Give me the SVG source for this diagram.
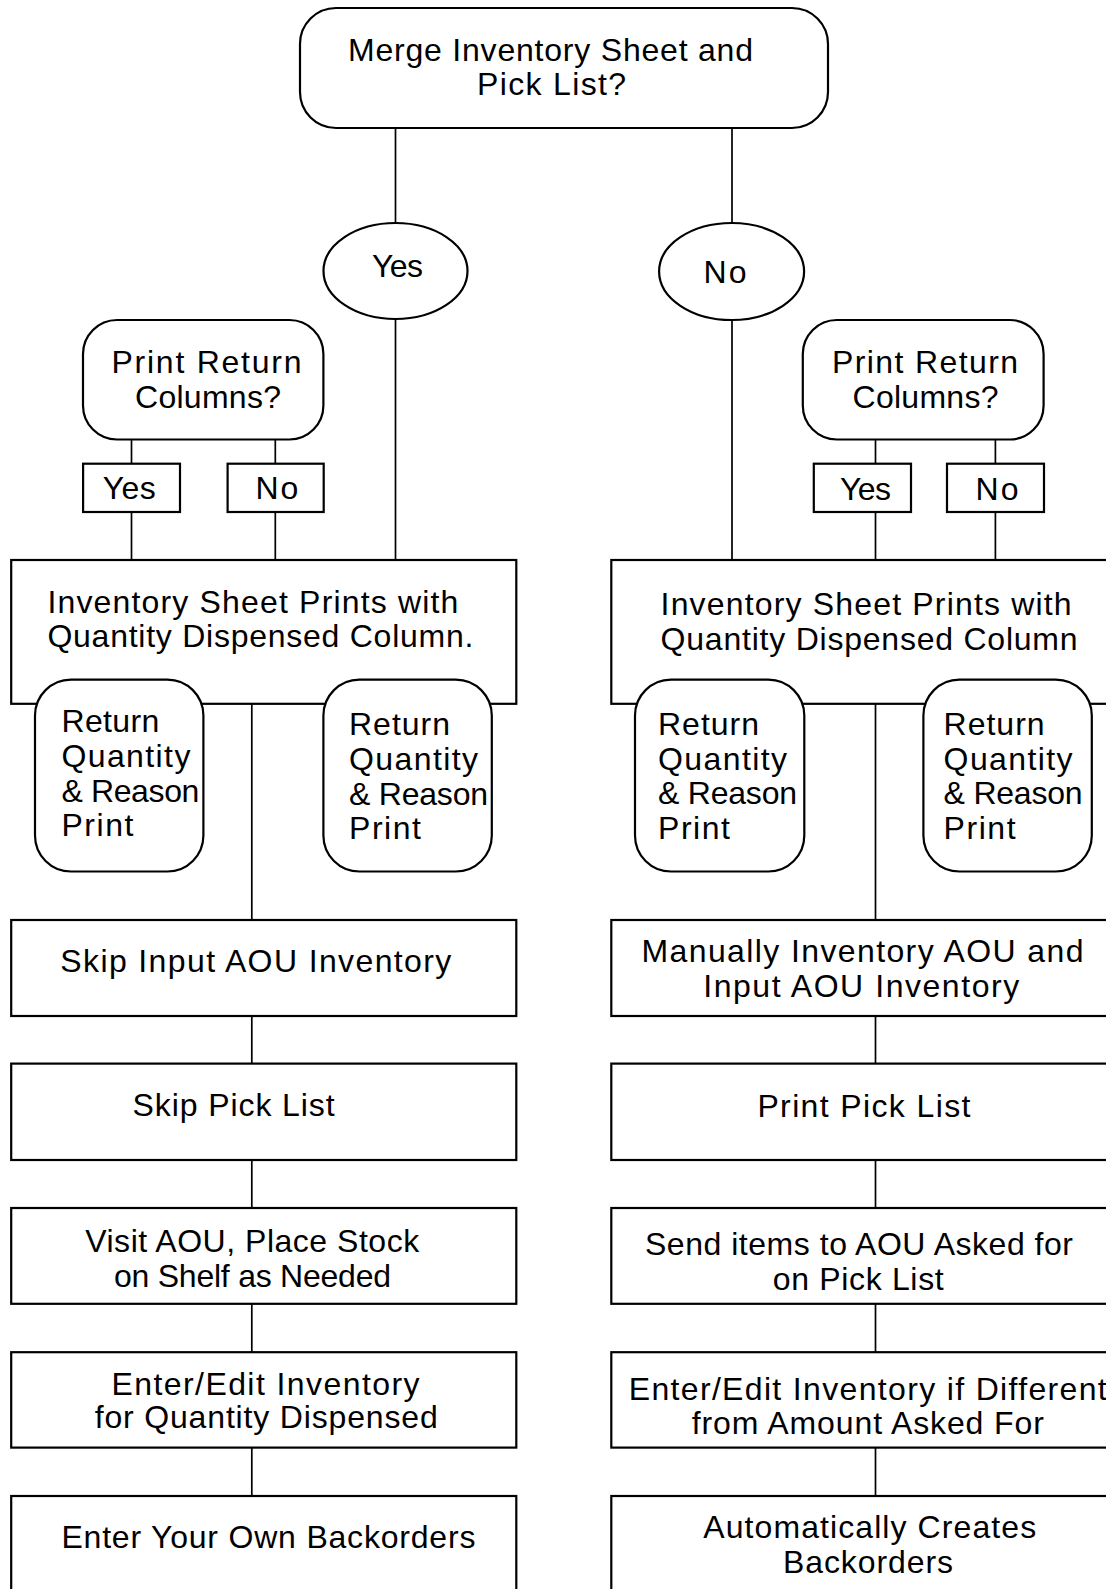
<svg xmlns="http://www.w3.org/2000/svg" width="1106" height="1589" viewBox="0 0 1106 1589">
<style>
.n{fill:#fff;stroke:#000;stroke-width:2.2}
.c{stroke:#000;stroke-width:1.7;fill:none}
text{font-family:"Liberation Sans",Arial,Helvetica,sans-serif;font-size:32px;fill:#000}
</style>
<rect x="0" y="0" width="1106" height="1589" fill="#fff"/>
<g id="connectors">
<path class="c" d="M395.5 128V223M395.5 319V560M732 128V223M732 320V560"/>
<path class="c" d="M131.5 439.5V464M275.3 439.5V464M131.5 512V560M275.3 512V560"/>
<path class="c" d="M875.5 439.5V464M995.4 439.5V464M875.5 512V560M995.4 512V560"/>
<path class="c" d="M251.8 704V920M251.8 1016V1064M251.8 1160V1208M251.8 1304V1352M251.8 1448V1496"/>
<path class="c" d="M875.5 704V920M875.5 1016V1064M875.5 1160V1208M875.5 1304V1352M875.5 1448V1496"/>
</g>
<g id="merge">
<rect class="n" x="300" y="8" width="528" height="120" rx="36"/>
<text x="348" y="61" textLength="405">Merge Inventory Sheet and</text>
<text x="477" y="95" textLength="149">Pick List?</text>
</g>
<g id="yes-main">
<ellipse class="n" cx="395.5" cy="271" rx="72" ry="48"/>
<text x="372" y="277" textLength="51">Yes</text>
</g>
<g id="no-main">
<ellipse class="n" cx="731.6" cy="271.5" rx="72.5" ry="48.5"/>
<text x="703.5" y="283" textLength="43">No</text>
</g>
<g id="prc-left">
<rect class="n" x="83" y="320" width="240.4" height="119.5" rx="34"/>
<text x="111.5" y="372.5" textLength="190">Print Return</text>
<text x="135" y="407.5" textLength="146">Columns?</text>
</g>
<g id="prc-right">
<rect class="n" x="802.8" y="320" width="240.8" height="119.5" rx="34"/>
<text x="832" y="372.5" textLength="186">Print Return</text>
<text x="852.5" y="407.5" textLength="146">Columns?</text>
</g>
<g id="yes-left">
<rect class="n" x="83.1" y="463.7" width="96.9" height="48.3"/>
<text x="102.8" y="499" textLength="53">Yes</text>
</g>
<g id="no-left">
<rect class="n" x="227.6" y="463.7" width="96.1" height="48.3"/>
<text x="255.4" y="499" textLength="43">No</text>
</g>
<g id="yes-right">
<rect class="n" x="813.8" y="463.7" width="97.2" height="48.3"/>
<text x="840" y="500" textLength="51">Yes</text>
</g>
<g id="no-right">
<rect class="n" x="947" y="463.7" width="97" height="48.3"/>
<text x="975.5" y="500" textLength="43">No</text>
</g>
<g id="inv-left">
<rect class="n" x="11.2" y="560" width="505.1" height="143.8"/>
<text x="47.4" y="613" textLength="411">Inventory Sheet Prints with</text>
<text x="47.4" y="647" textLength="426">Quantity Dispensed Column.</text>
</g>
<g id="inv-right">
<rect class="n" x="611.3" y="560" width="505.1" height="143.8"/>
<text x="660.6" y="614.5" textLength="411">Inventory Sheet Prints with</text>
<text x="660.6" y="650" textLength="417">Quantity Dispensed Column</text>
</g>
<g id="ret-ll">
<rect class="n" x="35" y="679.6" width="168.4" height="191.9" rx="36"/>
<text x="61.4" y="732" textLength="98">Return</text>
<text x="61.4" y="767" textLength="129">Quantity</text>
<text x="61.4" y="801.5" textLength="138">&amp; Reason</text>
<text x="61.4" y="836" textLength="72">Print</text>
</g>
<g id="ret-lr">
<rect class="n" x="323.4" y="679.6" width="168.4" height="191.9" rx="36"/>
<text x="349" y="734.5" textLength="101">Return</text>
<text x="349" y="769.5" textLength="129">Quantity</text>
<text x="349" y="804.5" textLength="139">&amp; Reason</text>
<text x="349" y="838.5" textLength="72">Print</text>
</g>
<g id="ret-rl">
<rect class="n" x="635" y="679.6" width="169.3" height="191.9" rx="36"/>
<text x="658" y="735" textLength="101">Return</text>
<text x="658" y="770" textLength="129">Quantity</text>
<text x="658" y="804" textLength="139">&amp; Reason</text>
<text x="658" y="839" textLength="72">Print</text>
</g>
<g id="ret-rr">
<rect class="n" x="923.4" y="679.6" width="168.4" height="191.9" rx="36"/>
<text x="943.6" y="735" textLength="101">Return</text>
<text x="943.6" y="770" textLength="129">Quantity</text>
<text x="943.6" y="804" textLength="139">&amp; Reason</text>
<text x="943.6" y="839" textLength="72">Print</text>
</g>
<g id="skip-input">
<rect class="n" x="11.2" y="920" width="505.1" height="96"/>
<text x="60.3" y="972" textLength="391">Skip Input AOU Inventory</text>
</g>
<g id="manual-input">
<rect class="n" x="611.3" y="920" width="505.1" height="96"/>
<text x="641.5" y="962" textLength="442">Manually Inventory AOU and</text>
<text x="703.2" y="997" textLength="316">Input AOU Inventory</text>
</g>
<g id="skip-pick">
<rect class="n" x="11.2" y="1063.6" width="505.1" height="96.4"/>
<text x="132.6" y="1116" textLength="202">Skip Pick List</text>
</g>
<g id="print-pick">
<rect class="n" x="611.3" y="1063.6" width="505.1" height="96.4"/>
<text x="757.4" y="1117" textLength="213">Print Pick List</text>
</g>
<g id="visit">
<rect class="n" x="11.2" y="1208" width="505.1" height="95.8"/>
<text x="85.2" y="1252" textLength="334">Visit AOU, Place Stock</text>
<text x="114" y="1287" textLength="277">on Shelf as Needed</text>
</g>
<g id="send">
<rect class="n" x="611.3" y="1208" width="505.1" height="95.8"/>
<text x="645" y="1254.5" textLength="428">Send items to AOU Asked for</text>
<text x="772.7" y="1290" textLength="171">on Pick List</text>
</g>
<g id="edit-left">
<rect class="n" x="11.2" y="1352.2" width="505.1" height="95.4"/>
<text x="111.5" y="1395" textLength="308">Enter/Edit Inventory</text>
<text x="94.7" y="1428.3" textLength="343">for Quantity Dispensed</text>
</g>
<g id="edit-right">
<rect class="n" x="611.3" y="1352.2" width="505.1" height="95.4"/>
<text x="628.7" y="1399.5" textLength="478">Enter/Edit Inventory if Different</text>
<text x="691.8" y="1433.5" textLength="352">from Amount Asked For</text>
</g>
<g id="backorders-left">
<rect class="n" x="11.2" y="1496" width="505.1" height="110"/>
<text x="61.4" y="1548" textLength="414">Enter Your Own Backorders</text>
</g>
<g id="backorders-right">
<rect class="n" x="611.3" y="1496" width="505.1" height="110"/>
<text x="703.2" y="1537.8" textLength="333">Automatically Creates</text>
<text x="783" y="1572.8" textLength="170">Backorders</text>
</g>
</svg>
